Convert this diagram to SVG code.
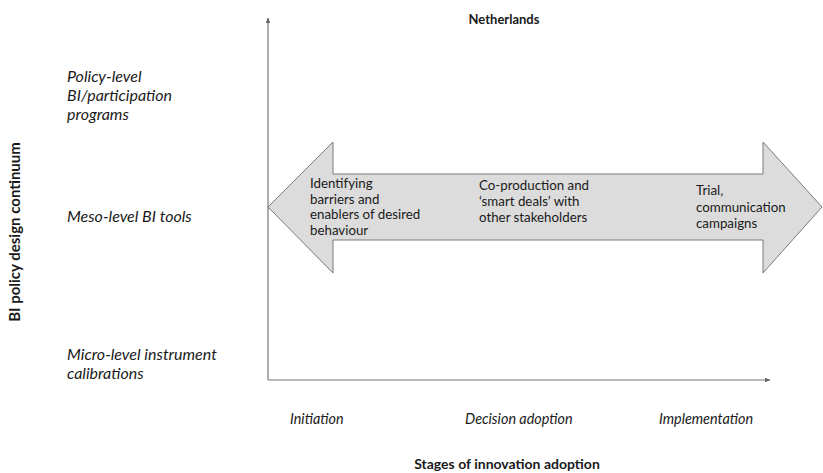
<svg xmlns="http://www.w3.org/2000/svg" width="823" height="473" viewBox="0 0 823 473">
  <defs>
    <marker id="axisHead" viewBox="0 0 10 10" refX="9" refY="5" markerWidth="6" markerHeight="6" orient="auto" markerUnits="userSpaceOnUse">
      <path d="M0,1 L10,5 L0,9 Z" fill="#666"/>
    </marker>
  </defs>
  <style>
    text { font-family: Lato, "Open Sans", "Liberation Sans", sans-serif; fill: #1a1a1a; }
    .title { font-size: 13px; font-weight: bold; }
    .axis-title { font-size: 14px; font-weight: bold; }
    .axis-title.vertical { font-size: 15px; }
    .level { font-size: 16px; font-style: italic; }
    .stage { font-size: 14.4px; font-style: italic; }
    .inner { font-size: 13.3px; }
    .axis { stroke: #777; stroke-width: 1.2; fill: none; }
    .band { fill: #dcdcdc; stroke: #7a7a7a; stroke-width: 1; }
  </style>

  <rect width="823" height="473" fill="#ffffff"/>

  <!-- axes -->
  <g id="connectors">
    <line class="axis" x1="268" y1="380" x2="268" y2="18" marker-end="url(#axisHead)"/>
    <line class="axis" x1="268" y1="380" x2="770" y2="380" marker-end="url(#axisHead)"/>
  </g>

  <!-- heading -->
  <g id="heading">
    <text class="title" x="504" y="24" text-anchor="middle">Netherlands</text>
  </g>

  <!-- vertical axis -->
  <g id="y-axis-title">
    <text class="axis-title vertical" transform="translate(20,232) rotate(-90)" text-anchor="middle">BI policy design continuum</text>
  </g>
  <g id="level-policy">
    <text class="level" x="67" y="82">Policy-level</text>
    <text class="level" x="67" y="101">BI/participation</text>
    <text class="level" x="67" y="120">programs</text>
  </g>
  <g id="level-meso">
    <text class="level" x="67" y="222">Meso-level BI tools</text>
  </g>
  <g id="level-micro">
    <text class="level" x="67" y="360">Micro-level instrument</text>
    <text class="level" x="67" y="379">calibrations</text>
  </g>

  <!-- double-headed band -->
  <g id="band">
    <path class="band" d="M268,207 L333,142 L333,174 L763,174 L763,142 L822,207 L763,273 L763,240 L333,240 L333,273 Z"/>
    <g id="band-initiation">
      <text class="inner" x="310" y="188">Identifying</text>
      <text class="inner" x="310" y="203.5">barriers and</text>
      <text class="inner" x="310" y="219">enablers of desired</text>
      <text class="inner" x="310" y="234.5">behaviour</text>
    </g>
    <g id="band-decision">
      <text class="inner" x="479" y="190">Co-production and</text>
      <text class="inner" x="479" y="206">‘smart deals’ with</text>
      <text class="inner" x="479" y="222">other stakeholders</text>
    </g>
    <g id="band-implementation">
      <text class="inner" x="696" y="195">Trial,</text>
      <text class="inner" x="696" y="211.5">communication</text>
      <text class="inner" x="696" y="228">campaigns</text>
    </g>
  </g>

  <!-- horizontal axis -->
  <g id="stage-initiation">
    <text class="stage" x="290" y="424">Initiation</text>
  </g>
  <g id="stage-decision">
    <text class="stage" x="465" y="424">Decision adoption</text>
  </g>
  <g id="stage-implementation">
    <text class="stage" x="659" y="424">Implementation</text>
  </g>
  <g id="x-axis-title">
    <text class="axis-title" x="507" y="469" text-anchor="middle">Stages of innovation adoption</text>
  </g>
</svg>
